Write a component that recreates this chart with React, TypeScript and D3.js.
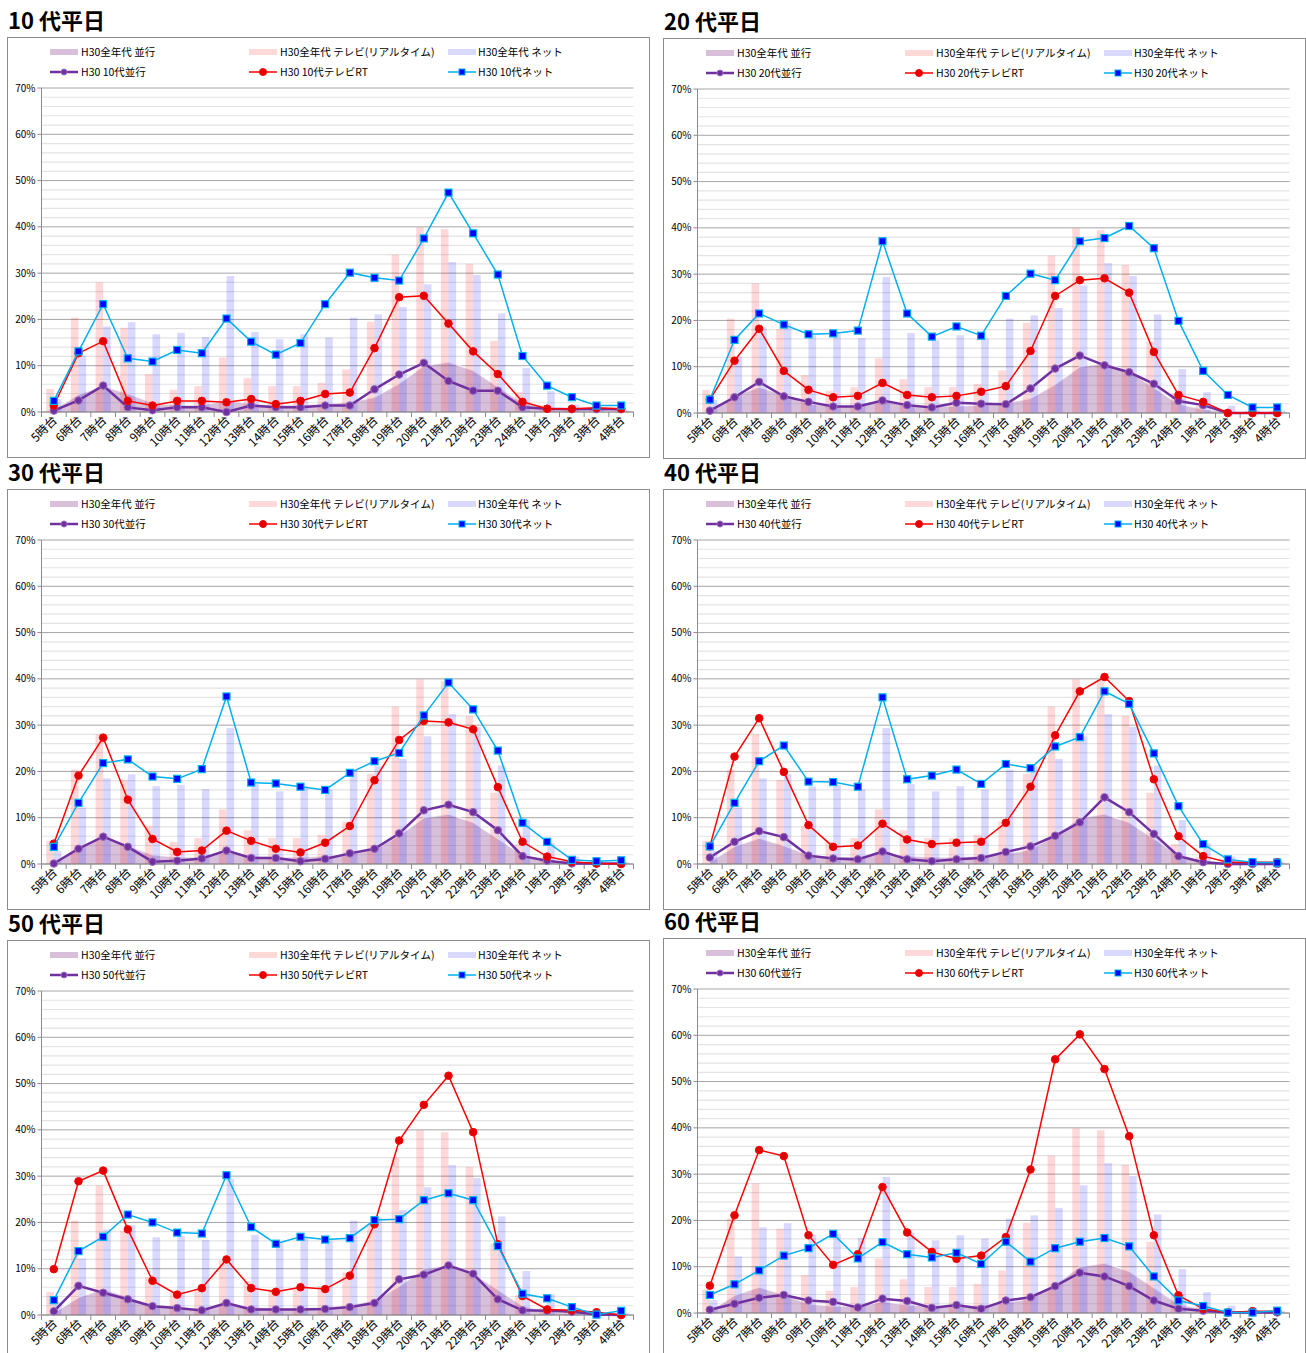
import React from 'react';
import * as d3 from 'd3';

const HOURS = ['5時台','6時台','7時台','8時台','9時台','10時台','11時台','12時台','13時台','14時台','15時台','16時台','17時台','18時台','19時台','20時台','21時台','22時台','23時台','24時台','1時台','2時台','3時台','4時台'];
const Y_TICKS = [0, 10, 20, 30, 40, 50, 60, 70];

// 全年代 (background)
const ALL_NARABI = [0.5, 3.8, 5.6, 4.0, 2.0, 1.5, 1.5, 2.5, 1.8, 1.5, 1.5, 1.8, 2.2, 3.2, 6.2, 10.0, 10.8, 9.0, 5.5, 2.0, 0.8, 0.4, 0.2, 0.2];
const ALL_TV = [5.0, 20.4, 28.0, 18.2, 8.2, 4.8, 5.6, 11.8, 7.3, 5.6, 5.6, 6.3, 9.2, 19.5, 34.0, 39.9, 39.5, 32.0, 15.4, 4.3, 1.5, 0.8, 0.5, 0.4];
const ALL_NET = [2.8, 12.2, 18.5, 19.4, 16.8, 17.1, 16.2, 29.4, 17.3, 15.7, 16.8, 16.1, 20.4, 21.1, 22.7, 27.6, 32.4, 29.6, 21.3, 9.5, 4.5, 1.6, 0.6, 0.5];

// 10代
const NARABI_10 = [0.3, 2.5, 5.7, 1.0, 0.4, 1.0, 1.0, 0.0, 1.4, 1.0, 1.0, 1.4, 1.4, 4.9, 8.1, 10.6, 6.7, 4.6, 4.6, 1.0, 0.7, 0.6, 0.6, 0.6];
const TV_10 = [1.4, 12.7, 15.3, 2.4, 1.4, 2.4, 2.4, 2.1, 2.8, 1.7, 2.4, 3.9, 4.2, 13.8, 24.8, 25.1, 19.1, 13.1, 8.2, 2.2, 0.7, 0.7, 0.9, 0.7];
const NET_10 = [2.4, 13.1, 23.3, 11.6, 10.9, 13.4, 12.7, 20.2, 15.2, 12.4, 14.9, 23.3, 30.1, 29.0, 28.4, 37.5, 47.4, 38.6, 29.7, 12.1, 5.7, 3.2, 1.4, 1.4];
// 20代
const NARABI_20 = [0.5, 3.4, 6.7, 3.6, 2.4, 1.4, 1.4, 2.7, 1.7, 1.2, 2.2, 2.0, 1.9, 5.3, 9.6, 12.4, 10.3, 8.8, 6.3, 2.6, 1.7, 0.0, 0.0, 0.0];
const TV_20 = [2.9, 11.3, 18.2, 9.1, 5.0, 3.4, 3.7, 6.5, 3.9, 3.4, 3.7, 4.6, 5.8, 13.4, 25.3, 28.7, 29.1, 26.0, 13.2, 3.9, 2.4, 0.0, 0.0, 0.0];
const NET_20 = [2.9, 15.8, 21.5, 19.1, 17.0, 17.2, 17.8, 37.1, 21.5, 16.5, 18.7, 16.7, 25.3, 30.1, 28.7, 37.1, 37.8, 40.4, 35.6, 19.9, 9.1, 3.9, 1.2, 1.2];
// 30代
const NARABI_30 = [0.1, 3.3, 5.9, 3.7, 0.5, 0.7, 1.2, 2.9, 1.3, 1.3, 0.6, 1.1, 2.3, 3.3, 6.6, 11.6, 12.8, 11.2, 7.3, 1.7, 0.7, 0.1, 0.1, 0.1];
const TV_30 = [4.4, 19.1, 27.3, 13.9, 5.4, 2.6, 2.9, 7.2, 5.0, 3.3, 2.5, 4.6, 8.2, 18.1, 26.8, 30.9, 30.6, 29.1, 16.6, 4.8, 1.6, 0.5, 0.1, 0.0];
const NET_30 = [3.7, 13.2, 21.8, 22.6, 18.9, 18.4, 20.5, 36.2, 17.6, 17.4, 16.7, 16.0, 19.7, 22.2, 24.0, 32.1, 39.2, 33.4, 24.5, 8.9, 4.8, 0.9, 0.6, 0.8];
// 40代
const NARABI_40 = [1.4, 4.8, 7.1, 5.8, 1.8, 1.2, 1.0, 2.7, 1.0, 0.6, 1.0, 1.3, 2.6, 3.8, 6.1, 9.0, 14.4, 11.2, 6.5, 1.7, 0.4, 0.0, 0.0, 0.0];
const TV_40 = [3.8, 23.2, 31.5, 19.9, 8.4, 3.7, 4.0, 8.7, 5.3, 4.3, 4.6, 4.8, 8.9, 16.7, 27.8, 37.3, 40.4, 35.2, 18.3, 6.0, 1.7, 0.4, 0.4, 0.4];
const NET_40 = [3.8, 13.2, 22.2, 25.6, 17.8, 17.7, 16.7, 36.0, 18.3, 19.1, 20.4, 17.3, 21.6, 20.7, 25.4, 27.4, 37.3, 34.6, 23.9, 12.5, 4.3, 1.0, 0.4, 0.3];
// 50代
const NARABI_50 = [0.8, 6.3, 4.8, 3.4, 1.9, 1.5, 1.0, 2.6, 1.2, 1.2, 1.2, 1.3, 1.7, 2.6, 7.7, 8.7, 10.7, 8.9, 3.4, 1.0, 0.9, 0.7, 0.1, 0.0];
const TV_50 = [9.9, 28.9, 31.2, 18.5, 7.4, 4.4, 5.8, 12.0, 5.8, 5.0, 6.0, 5.6, 8.5, 19.6, 37.7, 45.4, 51.7, 39.5, 15.3, 4.1, 1.2, 1.0, 0.6, 0.0];
const NET_50 = [3.2, 13.8, 16.9, 21.7, 20.0, 17.8, 17.6, 30.2, 19.0, 15.4, 16.9, 16.3, 16.6, 20.5, 20.7, 24.8, 26.3, 24.8, 14.9, 4.6, 3.6, 1.7, 0.1, 0.9];
// 60代
const NARABI_60 = [0.7, 2.0, 3.3, 3.9, 2.7, 2.4, 1.2, 3.1, 2.6, 1.1, 1.7, 0.9, 2.7, 3.4, 5.8, 8.7, 7.9, 5.8, 2.7, 0.9, 0.5, 0.1, 0.1, 0.1];
const TV_60 = [5.9, 21.1, 35.2, 33.9, 16.8, 10.4, 12.7, 27.2, 17.4, 13.2, 11.7, 12.4, 16.4, 31.0, 54.8, 60.2, 52.7, 38.2, 16.8, 3.8, 0.9, 0.1, 0.4, 0.4];
const NET_60 = [3.9, 6.2, 9.2, 12.4, 14.0, 17.1, 11.8, 15.3, 12.7, 12.0, 13.0, 10.6, 15.4, 11.1, 14.0, 15.4, 16.2, 14.4, 7.9, 2.7, 1.5, 0.1, 0.1, 0.5];

const PANELS = [
  { age: '10', title: '10 代平日', x: 7, y: 37, narabi: NARABI_10, tv: TV_10, net: NET_10 },
  { age: '20', title: '20 代平日', x: 663, y: 38, narabi: NARABI_20, tv: TV_20, net: NET_20 },
  { age: '30', title: '30 代平日', x: 7, y: 489, narabi: NARABI_30, tv: TV_30, net: NET_30 },
  { age: '40', title: '40 代平日', x: 663, y: 489, narabi: NARABI_40, tv: TV_40, net: NET_40 },
  { age: '50', title: '50 代平日', x: 7, y: 940, narabi: NARABI_50, tv: TV_50, net: NET_50 },
  { age: '60', title: '60 代平日', x: 663, y: 938, narabi: NARABI_60, tv: TV_60, net: NET_60 },
];

const FONT = '"Noto Sans CJK JP", "Noto Sans", sans-serif';
const C_PURPLE = '#7030a0';
const C_RED = '#ff0000';
const C_CYAN = '#00b0f0';

function Panel({ p }: { p: typeof PANELS[number] }) {
  const W = 642, H = 420;
  const left = p.x + 34.5, right = p.x + 626.5;
  const top = p.y + 51, bottom = p.y + 375;
  const xb = d3.scaleBand<string>().domain(HOURS).range([left, right]).padding(0);
  const bw = xb.bandwidth();
  const cx = (i: number) => (xb(HOURS[i]) as number) + bw / 2;
  const y = d3.scaleLinear().domain([0, 70]).range([bottom, top]);
  const minor = d3.range(0, 71, 2).filter((v) => v % 10 !== 0);
  const barW = 7.6;

  const area = d3.area<number>().x((_, i) => cx(i)).y0(y(0)).y1((d) => y(d));
  const areaTop = d3.line<number>().x((_, i) => cx(i)).y((d) => y(d));
  const line = d3.line<number>().x((_, i) => cx(i)).y((d) => y(d));

  const lx = p.x;
  const legendFont = 10.5;
  const row1 = p.y + 15, row2 = p.y + 35;

  return (
    <g>
      <text x={p.x + 1} y={p.y - 8} fontFamily={FONT} fontWeight={700} fontSize={22} fill="#000">{p.title}</text>
      <rect x={p.x + 0.5} y={p.y + 0.5} width={W} height={H} fill="#fff" stroke="#8c8c8c" strokeWidth={1} />
      {/* legend */}
      <g fontFamily={FONT} fontSize={legendFont} fill="#000">
        <rect x={lx + 43} y={row1 - 3} width={28} height={6} fill="#8e4b95" fillOpacity={0.35} />
        <text x={lx + 74} y={row1 + 4}>H30全年代 並行</text>
        <rect x={lx + 242} y={row1 - 3} width={28} height={6} fill="#ff0000" fillOpacity={0.15} />
        <text x={lx + 273} y={row1 + 4}>H30全年代 テレビ(リアルタイム)</text>
        <rect x={lx + 441} y={row1 - 3} width={28} height={6} fill="#0000ff" fillOpacity={0.15} />
        <text x={lx + 471} y={row1 + 4}>H30全年代 ネット</text>

        <line x1={lx + 43} x2={lx + 71} y1={row2} y2={row2} stroke={C_PURPLE} strokeWidth={2.5} />
        <circle cx={lx + 57} cy={row2} r={3} fill={C_PURPLE} stroke="#9a70c0" strokeWidth={1} />
        <text x={lx + 74} y={row2 + 4}>{`H30 ${p.age}代並行`}</text>
        <line x1={lx + 242} x2={lx + 270} y1={row2} y2={row2} stroke={C_RED} strokeWidth={1.5} />
        <circle cx={lx + 256} cy={row2} r={3.5} fill="#e00000" stroke={C_RED} strokeWidth={1} />
        <text x={lx + 273} y={row2 + 4}>{`H30 ${p.age}代テレビRT`}</text>
        <line x1={lx + 441} x2={lx + 469} y1={row2} y2={row2} stroke={C_CYAN} strokeWidth={1.5} />
        <rect x={lx + 452} y={row2 - 3} width={6} height={6} fill="#0000ff" stroke={C_CYAN} strokeWidth={1} />
        <text x={lx + 471} y={row2 + 4}>{`H30 ${p.age}代ネット`}</text>
      </g>
      {/* gridlines */}
      {minor.map((v) => (
        <line key={'m' + v} x1={left} x2={right} y1={y(v)} y2={y(v)} stroke="#e3e3e3" strokeWidth={1.2} />
      ))}
      {Y_TICKS.map((v) => (
        <line key={'g' + v} x1={left} x2={right} y1={y(v)} y2={y(v)} stroke="#a6a6a6" strokeWidth={1} />
      ))}
      {/* background area */}
      <path d={area(ALL_NARABI) || ''} fill="#8e4b95" fillOpacity={0.35} />
      <path d={areaTop(ALL_NARABI) || ''} fill="none" stroke="#fff" strokeOpacity={0.7} strokeWidth={1.5} />
      {/* bars */}
      {ALL_TV.map((v, i) => (
        <rect key={'t' + i} x={cx(i) - barW} y={y(v)} width={barW} height={y(0) - y(v)} fill="#ff0000" fillOpacity={0.15} />
      ))}
      {ALL_NET.map((v, i) => (
        <rect key={'n' + i} x={cx(i)} y={y(v)} width={barW} height={y(0) - y(v)} fill="#0000ff" fillOpacity={0.15} />
      ))}
      {/* axes */}
      <line x1={left} x2={left} y1={top} y2={bottom} stroke="#8c8c8c" strokeWidth={1} />
      <line x1={left} x2={right} y1={bottom} y2={bottom} stroke="#8c8c8c" strokeWidth={1} />
      {Y_TICKS.map((v) => (
        <g key={'yt' + v}>
          <line x1={left - 4} x2={left} y1={y(v)} y2={y(v)} stroke="#8c8c8c" />
          <text x={left - 6} y={y(v) + 3.5} textAnchor="end" fontFamily={FONT} fontSize={10} fill="#000">{v + '%'}</text>
        </g>
      ))}
      {HOURS.concat(['']).map((h, i) => {
        const xx = left + i * bw;
        return <line key={'xt' + i} x1={xx} x2={xx} y1={bottom} y2={bottom + 5} stroke="#8c8c8c" />;
      })}
      {HOURS.map((h, i) => (
        <text key={'xl' + h} transform={`translate(${cx(i) + 4},${bottom + 9}) rotate(-45)`} textAnchor="end" fontFamily={FONT} fontSize={12} fill="#000">{h}</text>
      ))}
      {/* lines */}
      <path d={line(p.narabi) || ''} fill="none" stroke={C_PURPLE} strokeWidth={2.5} />
      {p.narabi.map((v, i) => (
        <circle key={'pc' + i} cx={cx(i)} cy={y(v)} r={3.8} fill={C_PURPLE} stroke="#9a70c0" strokeWidth={1} />
      ))}
      <path d={line(p.tv) || ''} fill="none" stroke={C_RED} strokeWidth={1.5} />
      {p.tv.map((v, i) => (
        <circle key={'rc' + i} cx={cx(i)} cy={y(v)} r={3.8} fill="#e00000" stroke={C_RED} strokeWidth={1} />
      ))}
      <path d={line(p.net) || ''} fill="none" stroke={C_CYAN} strokeWidth={1.5} />
      {p.net.map((v, i) => (
        <rect key={'bs' + i} x={cx(i) - 3.5} y={y(v) - 3.5} width={7} height={7} fill="#0000ff" stroke={C_CYAN} strokeWidth={1.2} />
      ))}
    </g>
  );
}

export default function App() {
  return (
    <svg width={1306} height={1353} style={{ position: 'absolute', left: 0, top: 0, background: '#fff' }}>
      <rect x={0} y={0} width={1306} height={1353} fill="#fff" />
      {PANELS.map((p) => (
        <Panel key={p.age} p={p} />
      ))}
    </svg>
  );
}
